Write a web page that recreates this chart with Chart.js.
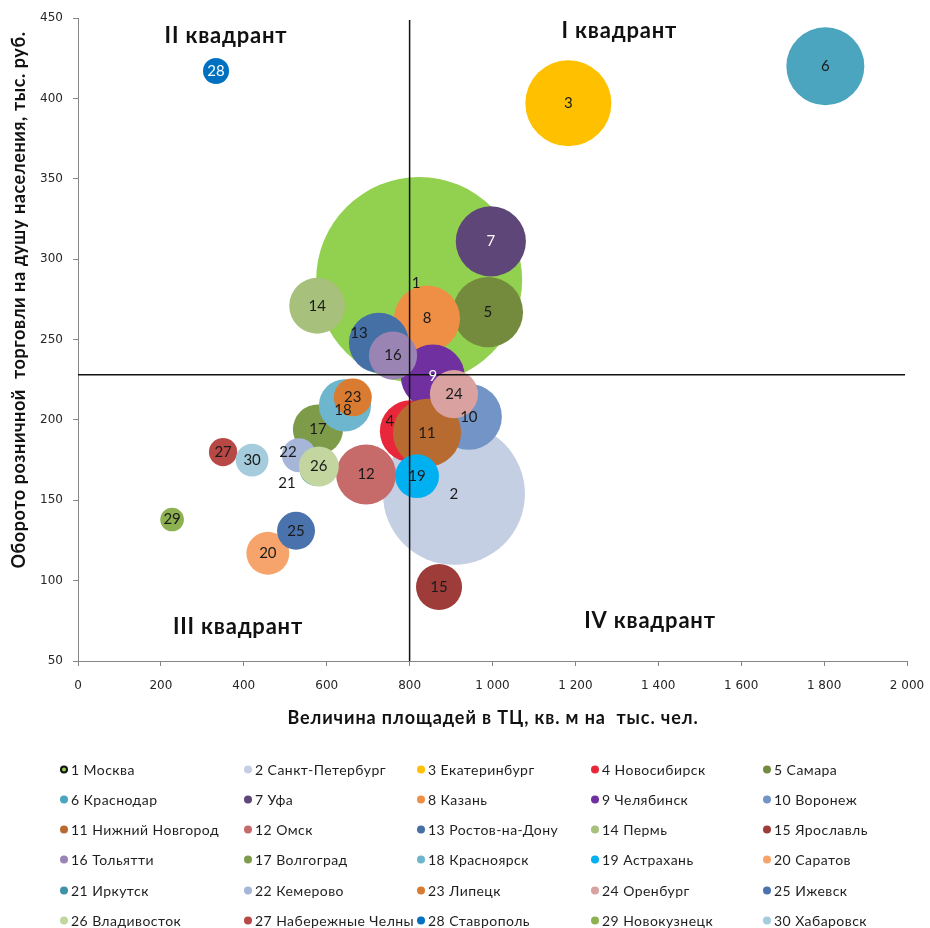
<!DOCTYPE html>
<html lang="ru">
<head>
<meta charset="utf-8">
<title>Квадранты: площади ТЦ и оборот розницы</title>
<script src="https://cdn.jsdelivr.net/npm/chart.js@4.4.1/dist/chart.umd.min.js"></script>
<style>
    html, body { margin: 0; padding: 0; background: #fff; }
    #wrap { position: relative; width: 930px; height: 928px; overflow: hidden; }
    #chart { position: absolute; left: 0; top: 0; }
    #legend { position: absolute; left: 0; top: 0; width: 930px; height: 928px;
              font-family: Lato, "Open Sans", sans-serif; font-size: 14px; letter-spacing: 0.45px; color: #1f1f1f; }
    .item { position: absolute; display: flex; align-items: center; white-space: nowrap; transform: translateY(-50%); }
    .dot { width: 8px; height: 8px; border-radius: 50%; margin-right: 3px; box-sizing: border-box; flex: none; }
</style>
</head>
<body>
<div id="wrap">
    <canvas id="chart" width="930" height="745"></canvas>
    <div id="legend"></div>
</div>
<script>
// --- Data ---
const cityNames = [
    'Москва', 'Санкт-Петербург', 'Екатеринбург', 'Новосибирск', 'Самара',
    'Краснодар', 'Уфа', 'Казань', 'Челябинск', 'Воронеж',
    'Нижний Новгород', 'Омск', 'Ростов-на-Дону', 'Пермь', 'Ярославль',
    'Тольятти', 'Волгоград', 'Красноярск', 'Астрахань', 'Саратов',
    'Иркутск', 'Кемерово', 'Липецк', 'Оренбург', 'Ижевск',
    'Владивосток', 'Набережные Челны', 'Ставрополь', 'Новокузнецк', 'Хабаровск'
];
// Величина площадей в ТЦ, кв. м на тыс. чел.
const mallArea = [
    823, 907, 1183, 803, 989,
    1803, 996, 842, 856, 943,
    842, 695, 726, 577, 871,
    760, 579, 644, 818, 458,
    574, 533, 663, 907, 526,
    581, 350, 333, 227, 420
];
// Оборот розничной торговли на душу населения, тыс. руб.
const retailTurnover = [
    287, 154, 397, 193, 267,
    420, 311, 263, 227, 202,
    192, 166, 248, 271, 96,
    240, 194, 209, 165, 117,
    169, 178, 214, 216, 131,
    171, 180, 417, 138, 175
];
// bubble size (area of the bubble)
const bubbleSize = [
    1061, 504, 185, 96, 123,
    152, 123, 109, 102, 109,
    116, 90, 90, 78, 53,
    58, 63, 68, 48, 46,
    26, 29, 36, 58, 36,
    40, 20, 17, 14, 27
];
const cityColors = [
    '#92D050', '#C4CFE3', '#FFC000', '#E8283A', '#748B3D',
    '#4BA5BE', '#5E4778', '#EF8F45', '#7030A0', '#7294C6',
    '#B86B30', '#C76A6A', '#4470A5', '#A7C07C', '#9E3C39',
    '#9A84B4', '#7D9B48', '#6DB6CE', '#00B0F0', '#F7A46C',
    '#3E91A9', '#A6B6D8', '#D97B30', '#D9A1A0', '#4A72AD',
    '#C3D69F', '#B84845', '#0070C0', '#8DB050', '#A4CCDD'
];
const xRange = [0, 2000, 200];
const yRange = [50, 450, 50];
const splitX = 800;   // граница квадрантов по оси X
const splitY = 228;   // граница квадрантов по оси Y
const quadrantNames = ['I квадрант', 'II квадрант', 'III квадрант', 'IV квадрант'];
const xTitle = 'Величина площадей в ТЦ, кв. м на  тыс. чел.';
const yTitle = 'Оборото розничной  торговли на душу населения, тыс. руб.';

// --- Helpers ---
const maxRadius = 103;
const maxSize = Math.max(...bubbleSize);
const radiusFor = s => maxRadius * Math.sqrt(s / maxSize);
const fmtThousands = v => String(v).replace(/\B(?=(\d{3})+(?!\d))/g, '\u00a0');

// labels that were moved aside in the original, and white ones
const labelShift = { 0: [-3, 3], 3: [-21, -10], 12: [-20, -10], 17: [-2, 5], 20: [-29, 13], 21: [-11, -3] };
const whiteLabels = [6, 8, 27];
// where the quadrant captions sit, in data units
const quadrantAnchors = [[1306, 442], [357, 439], [386, 71], [1380, 75]];

const overlay = {
    id: 'overlay',
    afterDatasetsDraw(chart) {
        const { ctx, chartArea: a, scales: { x, y } } = chart;
        ctx.save();

        // dividing lines
        const px = x.getPixelForValue(splitX);
        const py = y.getPixelForValue(splitY);
        ctx.strokeStyle = '#111';
        ctx.lineWidth = 1.5;
        ctx.beginPath();
        ctx.moveTo(px, a.top + 2);
        ctx.lineTo(px, a.bottom);
        ctx.moveTo(a.left, py);
        ctx.lineTo(a.right - 2, py);
        ctx.stroke();

        // bubble numbers
        ctx.font = '15px Lato, "Open Sans", sans-serif';
        ctx.textAlign = 'center';
        ctx.textBaseline = 'middle';
        chart.getDatasetMeta(0).data.forEach((el, i) => {
            const off = labelShift[i] || [0, 0];
            ctx.fillStyle = whiteLabels.includes(i) ? '#fff' : '#1a1a1a';
            ctx.fillText(String(i + 1), el.x + off[0], el.y + off[1]);
        });

        // quadrant captions
        ctx.font = 'bold 22px Lato, "Open Sans", sans-serif';
        ctx.letterSpacing = '0.8px';
        ctx.fillStyle = '#111';
        quadrantNames.forEach((t, i) => {
            const [qx, qy] = quadrantAnchors[i];
            ctx.fillText(t, x.getPixelForValue(qx), y.getPixelForValue(qy));
        });
        ctx.restore();
    },
    afterDraw(chart) {
        const { ctx } = chart;
        ctx.save();
        ctx.font = 'bold 18px Lato, "Open Sans", sans-serif';
        ctx.fillStyle = '#111';
        ctx.textAlign = 'center';
        ctx.textBaseline = 'middle';
        ctx.letterSpacing = '0.9px';
        ctx.fillText(xTitle, 493, 718);
        ctx.letterSpacing = '0.6px';
        ctx.translate(19, 300);
        ctx.rotate(-Math.PI / 2);
        ctx.fillText(yTitle, 0, 0);
        ctx.restore();
    }
};

const tickFont = { family: '"DejaVu Sans", Verdana, sans-serif', size: 12 };

new Chart(document.getElementById('chart'), {
    type: 'bubble',
    data: {
        datasets: [{
            label: 'Города',
            data: cityNames.map((n, i) => ({ x: mallArea[i], y: retailTurnover[i], r: radiusFor(bubbleSize[i]) })),
            backgroundColor: cityColors,
            borderWidth: 0,
            hoverBorderWidth: 0,
            clip: false
        }]
    },
    options: {
        responsive: false,
        animation: false,
        events: [],
        layout: { autoPadding: false, padding: { left: 0, right: 23, top: 18, bottom: 0 } },
        plugins: { legend: { display: false }, tooltip: { enabled: false } },
        scales: {
            x: {
                type: 'linear',
                min: xRange[0], max: xRange[1],
                ticks: { stepSize: xRange[2], font: tickFont, color: '#262626', padding: 13, callback: v => fmtThousands(v) },
                grid: { drawOnChartArea: false, drawTicks: true, tickLength: 5, color: '#868686' },
                border: { color: '#868686' },
                afterFit: s => { s.height = 84; s.paddingLeft = 0; s.paddingRight = 0; }
            },
            y: {
                type: 'linear',
                min: yRange[0], max: yRange[1],
                ticks: { stepSize: yRange[2], font: tickFont, color: '#262626', padding: 10 },
                grid: { drawOnChartArea: false, drawTicks: true, tickLength: 5, color: '#868686' },
                border: { color: '#868686' },
                afterFit: s => { s.width = 78; s.paddingTop = 0; s.paddingBottom = 0; }
            }
        }
    },
    plugins: [overlay]
});

// --- Legend (5 columns x 6 rows) ---
const legendCols = [64, 248, 421, 595, 767];
const legendRows = [769, 799, 829, 859, 890, 920];
const legendEl = document.getElementById('legend');
cityNames.forEach((name, i) => {
    const item = document.createElement('div');
    item.className = 'item';
    item.style.left = (legendCols[i % 5] - 4) + 'px';
    item.style.top = legendRows[Math.floor(i / 5)] + 'px';
    const dot = document.createElement('span');
    dot.className = 'dot';
    dot.style.background = cityColors[i];
    if (i === 0) dot.style.border = '2px solid #111';
    item.appendChild(dot);
    item.appendChild(document.createTextNode(`${i + 1} ${name}`));
    legendEl.appendChild(item);
});
</script>
</body>
</html>
